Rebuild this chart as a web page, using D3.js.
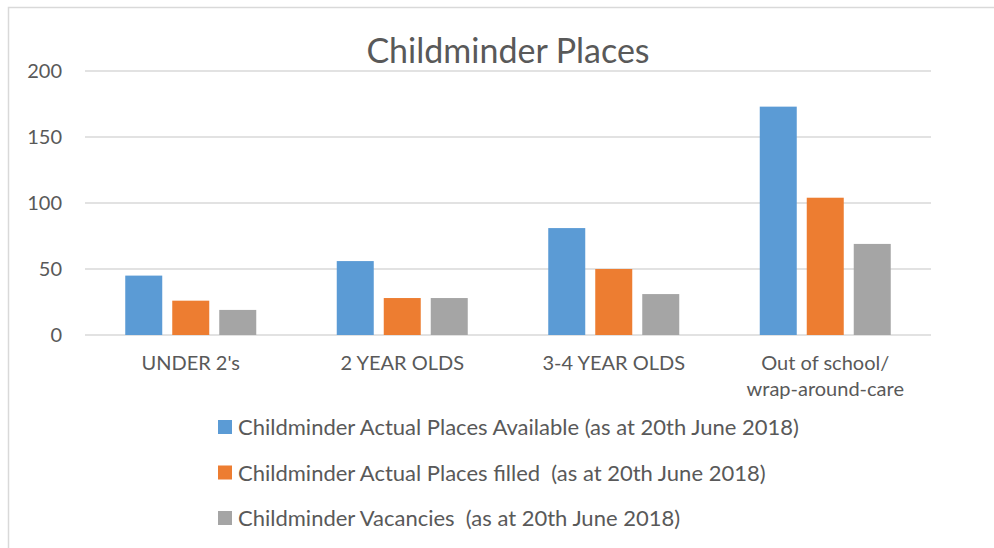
<!DOCTYPE html>
<html>
<head>
<meta charset="utf-8">
<script src="https://cdn.jsdelivr.net/npm/d3@7"></script>
<style>
  body { margin: 0; background: #fff; }
  svg { display: block; font-family: Lato, "Open Sans", sans-serif; }
  .axis text { fill: #595959; }
</style>
</head>
<body>
<svg class="root"></svg>
<script>
var categories = ["UNDER 2's", "2 YEAR OLDS", "3-4 YEAR OLDS", "Out of school/\nwrap-around-care"];
var seriesNames = [
  "Childminder Actual Places Available (as at 20th June 2018)",
  "Childminder Actual Places filled  (as at 20th June 2018)",
  "Childminder Vacancies  (as at 20th June 2018)"
];
var available = [45, 56, 81, 173];
var filled = [26, 28, 50, 104];
var vacancies = [19, 28, 31, 69];
var yTicks = [0, 50, 100, 150, 200];
var colors = ["#5b9bd5", "#ed7d31", "#a5a5a5"];

var series = [available, filled, vacancies];

var W = 994, H = 548;
var margin = {top: 71, right: 63, bottom: 213, left: 85},
  width = W - margin.left - margin.right,
  height = H - margin.top - margin.bottom;

var svg = d3.select(".root")
  .attr("width", W)
  .attr("height", H);

// outer chart border (only left & top visible in the crop)
svg.append("rect")
  .attr("x", 8.5).attr("y", 7.5)
  .attr("width", W + 20).attr("height", H + 20)
  .attr("fill", "none")
  .attr("stroke", "#d9d9d9")
  .attr("stroke-width", 1.5);

var chart = svg.append("g")
  .attr("transform", "translate(" + margin.left + "," + margin.top + ")");

var x0 = d3.scaleBand()
  .domain(d3.range(categories.length))
  .range([0, width])
  .padding(0);

var groupW = 131;
var x1 = d3.scaleBand()
  .domain(d3.range(series.length))
  .range([(x0.bandwidth() - groupW) / 2, (x0.bandwidth() + groupW) / 2])
  .paddingInner(10 / 47)
  .paddingOuter(0);

var y = d3.scaleLinear()
  .domain([0, 200])
  .range([height, 0]);

// gridlines
chart.append("g")
  .selectAll("line")
  .data(yTicks)
  .enter().append("line")
    .attr("x1", 0).attr("x2", width)
    .attr("y1", (d) => y(d)).attr("y2", (d) => y(d))
    .attr("stroke", "#d9d9d9")
    .attr("stroke-width", 1.5);

// y axis labels
var yAxis = d3.axisLeft(y).tickValues(yTicks).tickSize(0).tickPadding(23);
chart.append("g")
  .attr("class", "y axis")
  .call(yAxis)
  .call((g) => g.select(".domain").remove())
  .selectAll("text")
    .attr("font-size", 20)
    .attr("font-family", "Lato, sans-serif");

// bars
var groups = chart.selectAll(".group")
  .data(categories)
  .enter().append("g")
    .attr("class", "group")
    .attr("transform", (d, i) => "translate(" + x0(i) + ",0)");

groups.selectAll("rect")
  .data((d, i) => series.map((s, j) => ({s: j, v: s[i]})))
  .enter().append("rect")
    .attr("x", (d) => x1(d.s))
    .attr("width", x1.bandwidth())
    .attr("y", (d) => y(d.v))
    .attr("height", (d) => height - y(d.v))
    .attr("fill", (d) => colors[d.s]);

// category labels
var xAxis = d3.axisBottom(d3.scaleBand().domain(categories).range([0, width]))
  .tickSize(0).tickPadding(0);
var xg = chart.append("g")
  .attr("class", "x axis")
  .attr("transform", "translate(0," + height + ")")
  .call(xAxis);
xg.select(".domain").remove();
xg.selectAll("text").each(function(d) {
  var t = d3.select(this).text("")
    .attr("font-size", 20)
    .attr("font-family", "Lato, sans-serif")
    .attr("y", 0).attr("dy", null);
  d.split("\n").forEach((line, k) => {
    t.append("tspan").attr("x", 0).attr("y", 35 + k * 26).text(line);
  });
});

// title
svg.append("text")
  .attr("x", margin.left + width / 2)
  .attr("y", 63)
  .attr("text-anchor", "middle")
  .attr("font-size", 34)
  .attr("fill", "#595959")
  .text("Childminder Places");

// legend
var legend = svg.append("g")
  .selectAll("g")
  .data(seriesNames)
  .enter().append("g")
    .attr("transform", (d, i) => "translate(218," + (427 + i * 45.5) + ")");

legend.append("rect")
  .attr("x", 0).attr("y", -7)
  .attr("width", 14).attr("height", 14)
  .attr("fill", (d, i) => colors[i]);

legend.append("text")
  .attr("x", 20).attr("y", 8)
  .attr("font-size", 22)
  .attr("fill", "#595959")
  .attr("xml:space", "preserve")
  .style("white-space", "pre")
  .text((d) => d);
</script>
</body>
</html>
